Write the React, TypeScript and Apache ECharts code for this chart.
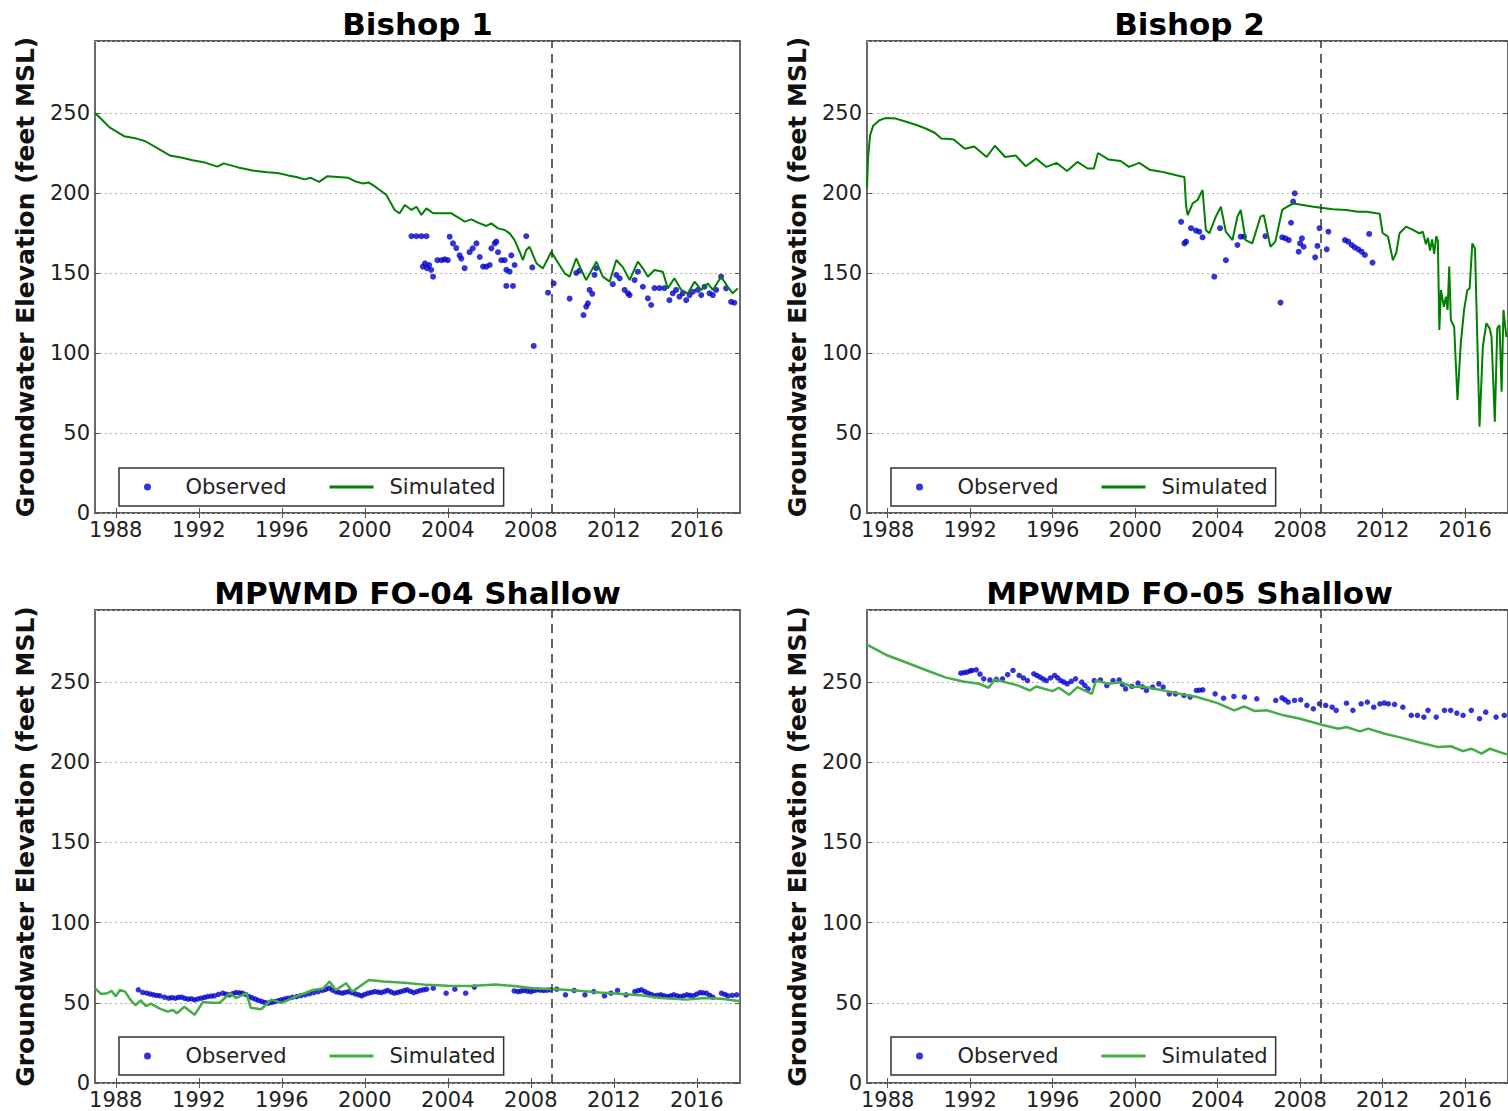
import React, { useEffect, useRef } from 'react';
import * as echarts from 'echarts';

// ---------- data (decimal year, feet MSL) ----------
const PANEL_TITLES = ['Bishop 1', 'Bishop 2', 'MPWMD FO-04 Shallow', 'MPWMD FO-05 Shallow'];
const YEAR_TICKS = [1988, 1992, 1996, 2000, 2004, 2008, 2012, 2016];
const X_MIN = 1987.0;
const X_MAX = 2018.08;
const Y_MIN = 0;
const Y_MAX = 295;
const Y_STEP = 50;
const CALIBRATION_END = 2009.0;
const Y_LABEL = 'Groundwater Elevation (feet MSL)';
const OBS_NAME = 'Observed';
const SIM_NAME = 'Simulated';

const BISHOP1_SIM: number[][] = [
  [1987.0, 250], [1987.4, 245], [1987.7, 241], [1988.4, 235.5], [1989.0, 234], [1989.4, 232.5],
  [1990.0, 228], [1990.6, 223.5], [1991.2, 222], [1991.7, 220.5], [1992.3, 219], [1992.9, 216.5],
  [1993.2, 218.5], [1993.9, 216], [1994.6, 214], [1995.3, 213], [1995.8, 212.5], [1996.3, 211],
  [1996.7, 210], [1997.1, 208.5], [1997.4, 209.5], [1997.8, 207], [1998.2, 210.5], [1998.7, 210],
  [1999.2, 209.5], [1999.6, 207], [1999.9, 206], [2000.2, 206.5], [2000.5, 204], [2000.72, 201.9],
  [2001.04, 198.8], [2001.44, 189.4], [2001.68, 187.3], [2001.93, 192.5], [2002.25, 189.4],
  [2002.49, 191.4], [2002.73, 186.3], [2002.97, 190.4], [2003.29, 187.3], [2003.69, 187.3],
  [2004.17, 187.3], [2004.57, 184.2], [2004.81, 182.1], [2005.14, 183.5], [2005.45, 181.5],
  [2005.86, 179.4], [2006.1, 181.0], [2006.42, 177.9], [2006.74, 176.9], [2006.98, 174.8],
  [2007.22, 170.6], [2007.46, 163.3], [2007.62, 158.1], [2007.78, 164.4], [2007.94, 166.4],
  [2008.27, 156.1], [2008.58, 152.9], [2008.99, 163.3], [2009.23, 158.1], [2009.63, 149.8],
  [2009.87, 147.7], [2010.19, 159.2], [2010.43, 151.9], [2010.67, 145.6], [2011.16, 157.1],
  [2011.47, 147.7], [2011.8, 144.6], [2012.12, 158.1], [2012.44, 153.5], [2012.76, 145.6],
  [2013.16, 157.1], [2013.4, 152.9], [2013.64, 147.7], [2013.96, 151.9], [2014.36, 150.8],
  [2014.6, 140.4], [2014.92, 146.7], [2015.25, 139.4], [2015.57, 137.3], [2015.89, 144.6],
  [2016.21, 139.4], [2016.53, 143.5], [2016.77, 139.4], [2017.17, 147.7], [2017.49, 141.4],
  [2017.73, 137.3], [2017.97, 140.4],
];

const BISHOP1_OBS: number[][] = [
  [2002.25, 173], [2002.49, 173], [2002.73, 173], [2002.97, 173],
  [2002.8, 154], [2002.9, 156], [2003.0, 153], [2003.1, 155], [2003.2, 152], [2003.29, 147.7],
  [2003.5, 158], [2003.7, 158], [2003.85, 158.5], [2004.0, 158],
  [2004.09, 172.7], [2004.25, 168.5], [2004.41, 165.6], [2004.57, 161], [2004.65, 159], [2004.81, 153],
  [2005.05, 163], [2005.2, 165.4], [2005.38, 168.5], [2005.54, 160], [2005.7, 154], [2005.86, 154],
  [2006.02, 155], [2006.1, 165.4], [2006.26, 168.5], [2006.34, 169.6], [2006.42, 163],
  [2006.58, 158], [2006.74, 158], [2006.82, 152], [2006.98, 150.8], [2007.06, 161], [2007.22, 155],
  [2006.82, 141.9], [2007.14, 141.9], [2007.78, 173], [2008.07, 153.5], [2008.14, 104.4],
  [2008.83, 137.7], [2009.1, 143.5], [2009.87, 134], [2010.19, 150], [2010.35, 151.5],
  [2010.54, 123.7], [2010.67, 129], [2010.75, 131], [2010.83, 139.4], [2010.96, 137],
  [2011.07, 148.8], [2011.15, 153], [2011.95, 143], [2012.12, 148.8], [2012.28, 146.7],
  [2012.52, 139.4], [2012.68, 137.3], [2012.76, 136.2], [2013.0, 145.6], [2013.16, 150.8],
  [2013.4, 141.4], [2013.64, 134.2], [2013.8, 130], [2013.96, 140.6], [2014.2, 140.6],
  [2014.44, 140.6], [2014.68, 133], [2014.84, 137.3], [2015.0, 139.4], [2015.16, 135.2],
  [2015.32, 137.3], [2015.49, 133], [2015.65, 136.2], [2015.81, 138.3], [2016.05, 139.4],
  [2016.21, 136.2], [2016.37, 141.4], [2016.61, 137.3], [2016.77, 136.2], [2016.93, 139.4],
  [2017.17, 147.7], [2017.41, 140.4], [2017.65, 132], [2017.81, 131.4],
];

const BISHOP2_SIM: number[][] = [
  [1987.0, 203], [1987.05, 222], [1987.15, 236], [1987.3, 242], [1987.6, 245.5], [1987.9, 246.8],
  [1988.4, 246.5], [1988.9, 244.5], [1989.4, 242.5], [1989.9, 240], [1990.3, 237.5], [1990.6, 234],
  [1991.0, 233.8], [1991.2, 233.4], [1991.75, 227.7], [1992.2, 229], [1992.8, 222.5], [1993.2, 229.5],
  [1993.7, 222.5], [1994.2, 223.5], [1994.7, 216.7], [1995.2, 221.5], [1995.7, 216.3], [1996.2, 218.8],
  [1996.7, 213.8], [1997.2, 219.4], [1997.7, 215.3], [1998.0, 215.3], [1998.2, 225], [1998.7, 221],
  [1999.3, 220], [1999.7, 216.3], [2000.2, 218.8], [2000.7, 214.6], [2001.2, 213.5], [2001.7, 212],
  [2002.2, 210.5], [2002.39, 210], [2002.47, 192], [2002.55, 186.2], [2002.79, 193.5], [2003.03, 195.6],
  [2003.27, 201.9], [2003.43, 176.9], [2003.6, 174.8], [2003.91, 185.2], [2004.16, 191.4],
  [2004.4, 175.8], [2004.72, 170.6], [2004.96, 185.2], [2005.12, 189.4], [2005.36, 170.6],
  [2005.68, 168.5], [2006.08, 185.2], [2006.24, 186.2], [2006.56, 166.4], [2006.8, 169.6],
  [2007.13, 189.4], [2007.37, 191.4], [2007.69, 193.5], [2008.65, 191.4], [2009.0, 190.8],
  [2009.6, 189.8], [2010.25, 189.4], [2010.8, 188.3], [2011.22, 188.3], [2011.7, 187.3],
  [2011.86, 187.0], [2012.0, 175], [2012.26, 172.7], [2012.5, 158], [2012.66, 162.5],
  [2012.82, 174.8], [2013.14, 179], [2013.47, 177], [2013.78, 174.8], [2013.95, 175.8],
  [2014.1, 168], [2014.2, 172], [2014.3, 164], [2014.4, 171], [2014.5, 162], [2014.6, 173],
  [2014.68, 170], [2014.75, 114.4], [2014.83, 139.4], [2014.97, 128.8], [2015.07, 135.2],
  [2015.15, 126.9], [2015.23, 154], [2015.31, 120.6], [2015.47, 116.4], [2015.63, 70.6],
  [2015.79, 106], [2015.95, 126.9], [2016.11, 139.4], [2016.22, 140.4], [2016.35, 168.5],
  [2016.48, 165.4], [2016.7, 54], [2016.86, 104], [2017.03, 118.6], [2017.19, 115.4],
  [2017.28, 110.2], [2017.44, 57], [2017.56, 115.4], [2017.67, 117.5], [2017.77, 75.8],
  [2017.86, 126.9], [2018.0, 110],
];

const BISHOP2_OBS: number[][] = [
  [2002.23, 182], [2002.39, 168.5], [2002.47, 169.6], [2002.71, 178], [2002.95, 176.5],
  [2003.11, 175.8], [2003.27, 172.3], [2003.84, 147.7], [2004.12, 178], [2004.4, 158],
  [2004.96, 167.5], [2005.12, 172.7], [2005.28, 172.7], [2006.32, 173], [2007.05, 131.5],
  [2007.13, 172.3], [2007.29, 171.7], [2007.45, 170.6], [2007.56, 181.4], [2007.66, 194.6],
  [2007.74, 199.8], [2007.93, 163.3], [2008.0, 168.5], [2008.09, 171.7], [2008.17, 166.4],
  [2008.73, 159.8], [2008.84, 166.9], [2008.94, 178], [2009.29, 164.8], [2009.37, 175.8],
  [2010.17, 170.6], [2010.33, 169.6], [2010.5, 167.5], [2010.65, 166], [2010.82, 164.8],
  [2010.98, 163.3], [2011.14, 161.3], [2011.35, 174.4], [2011.51, 156.5],
];

const FO04_SIM: number[][] = [
  [1987.0, 59], [1987.3, 55.5], [1987.6, 56], [1987.8, 57.5], [1988.0, 54], [1988.2, 58],
  [1988.45, 57], [1988.7, 52], [1988.95, 48.5], [1989.2, 51.5], [1989.45, 48], [1989.7, 49.5],
  [1990.1, 46.5], [1990.5, 44.5], [1990.75, 45.5], [1990.95, 43.5], [1991.3, 47.5], [1991.55, 45],
  [1991.8, 42.5], [1992.2, 50.5], [1992.6, 50], [1993.0, 50], [1993.5, 56], [1993.8, 53],
  [1994.3, 56], [1994.5, 47], [1995.0, 46], [1995.5, 52], [1996.0, 50], [1996.7, 54],
  [1997.5, 58], [1998.0, 59], [1998.3, 63.3], [1998.6, 58], [1999.1, 62.2], [1999.4, 57],
  [2000.2, 64.3], [2000.9, 63.3], [2001.9, 62.5], [2003.0, 61.2], [2004.0, 60.6], [2005.1, 60.5],
  [2006.3, 61.5], [2007.2, 60.5], [2008.2, 59], [2009.25, 58.5], [2010.3, 57.5], [2011.3, 56.5],
  [2012.4, 55.5], [2013.4, 54.5], [2014.3, 53], [2015.5, 52], [2016.4, 53], [2017.2, 52.5],
  [2018.08, 51],
];

const FO04_OBS: number[][] = [
  [1989.09, 58.1], [1989.3, 56.5], [1989.5, 56], [1989.66, 55.5], [1989.82, 55], [1989.98, 54.6],
  [1990.13, 54.4], [1990.35, 53.5], [1990.55, 52.9], [1990.7, 53.2], [1990.87, 52.9], [1991.02, 53.4],
  [1991.18, 53.5], [1991.33, 52.8], [1991.49, 52.3], [1991.65, 52.5], [1991.8, 51.9], [1991.96, 52.4],
  [1992.12, 52.9], [1992.28, 53.4], [1992.43, 53.9], [1992.6, 54.2], [1992.75, 54.4], [1992.95, 55.3],
  [1993.16, 56], [1993.32, 55.4], [1993.48, 55], [1993.64, 55.8], [1993.79, 56.4], [1993.95, 56.2],
  [1994.1, 56], [1994.26, 55.2], [1994.42, 53.9], [1994.57, 53.1], [1994.73, 52.3], [1994.88, 51.5],
  [1995.04, 50.8], [1995.2, 50.2], [1995.36, 49.8], [1995.52, 50.3], [1995.67, 50.8], [1995.83, 51.3],
  [1995.98, 51.9], [1996.14, 52.4], [1996.3, 52.9], [1996.5, 53.4], [1996.72, 53.9], [1996.92, 54.5],
  [1997.13, 55], [1997.34, 55.7], [1997.55, 56.4], [1997.76, 57], [1997.97, 57.7], [1998.12, 58.4],
  [1998.28, 59.1], [1998.44, 58], [1998.6, 57], [1998.75, 56.5], [1998.91, 56], [1999.06, 56.5],
  [1999.22, 57], [1999.38, 56.3], [1999.54, 55.6], [1999.7, 55], [1999.85, 54.4], [2000.0, 55.2],
  [2000.16, 56], [2000.32, 56.5], [2000.48, 57], [2000.64, 56.7], [2000.79, 56.4], [2000.95, 57],
  [2001.1, 57.7], [2001.26, 56.8], [2001.42, 56], [2001.58, 56.5], [2001.73, 57], [2001.9, 57.6],
  [2002.04, 58.1], [2002.2, 57.2], [2002.36, 56.4], [2002.52, 57], [2002.67, 57.7], [2002.83, 58.1],
  [2002.98, 58.5], [2003.3, 59.1], [2003.92, 56], [2004.34, 58.5], [2004.86, 56], [2005.28, 59.8],
  [2007.2, 57.4], [2007.37, 57], [2007.52, 57.3], [2007.68, 57.7], [2007.84, 57.3], [2008.0, 57],
  [2008.16, 57.6], [2008.31, 58.1], [2008.47, 57.9], [2008.62, 57.7], [2008.78, 57.9], [2008.94, 58.1],
  [2009.25, 58.5], [2009.67, 55], [2010.09, 57.7], [2010.61, 55], [2011.03, 57], [2011.55, 54.4],
  [2011.86, 56], [2012.18, 57.7], [2012.59, 55], [2013.01, 57], [2013.17, 57.6], [2013.33, 58.1],
  [2013.49, 57], [2013.64, 56], [2013.8, 55.2], [2013.95, 54.4], [2014.11, 54.7], [2014.27, 55],
  [2014.42, 54.4], [2014.58, 53.9], [2014.73, 54.4], [2014.89, 55], [2015.05, 54.4], [2015.2, 53.9],
  [2015.36, 54.4], [2015.52, 55], [2015.67, 54.7], [2015.83, 54.4], [2015.99, 55.4], [2016.15, 56.4],
  [2016.3, 56.2], [2016.46, 56], [2016.62, 54.7], [2016.77, 53.5], [2017.19, 56], [2017.35, 55.2],
  [2017.5, 54.4], [2017.71, 54.7], [2017.92, 55],
];

const FO05_SIM: number[][] = [
  [1987.0, 273.4], [1988.0, 266.6], [1989.0, 261.8], [1990.0, 256.8], [1990.8, 253], [1991.65, 250.4],
  [1992.45, 249], [1992.9, 246.5], [1993.2, 251.7], [1994.3, 248], [1994.9, 244.8], [1995.2, 247.3],
  [1996.0, 244.4], [1996.3, 246.5], [1996.8, 242.1], [1997.2, 246.9], [1997.9, 242.7], [1998.1, 251],
  [1998.7, 249], [1999.3, 250], [1999.9, 246.9], [2000.3, 247.3], [2001.2, 245.2], [2002.2, 242.7],
  [2003.0, 240.7], [2004.0, 236.9], [2004.8, 232.4], [2005.3, 234.8], [2005.8, 232], [2006.4, 232.4],
  [2007.2, 229.3], [2008.0, 227.2], [2009.0, 223.6], [2009.85, 220.9], [2010.25, 222], [2010.9, 219.3],
  [2011.3, 221], [2012.1, 217.8], [2012.9, 215.4], [2013.7, 212.7], [2014.7, 209.5], [2015.3, 210],
  [2015.9, 207], [2016.3, 208.5], [2016.8, 205.4], [2017.2, 208.5], [2017.9, 205.4], [2018.08, 205],
];

const FO05_OBS: number[][] = [
  [1991.55, 255.6], [1991.7, 255.9], [1991.85, 256.2], [1992.0, 257], [1992.1, 257.3], [1992.3, 257.7],
  [1992.48, 255], [1992.66, 252.1], [1992.96, 251.4], [1993.27, 251.8], [1993.57, 252.1], [1993.82, 254.7],
  [1994.08, 257.3], [1994.38, 254.2], [1994.58, 252.6], [1994.78, 251.0], [1995.09, 255.2], [1995.24, 254.2],
  [1995.39, 253.1], [1995.54, 252], [1995.69, 251.0], [1995.9, 252.6], [1996.1, 254.2], [1996.25, 252.6],
  [1996.4, 251.0], [1996.55, 250], [1996.71, 249.0], [1996.9, 250.5], [1997.11, 252.1], [1997.41, 250.0],
  [1997.56, 248], [1997.72, 245.8], [1998.02, 251.0], [1998.32, 251.4], [1998.63, 247.9], [1998.93, 251.0],
  [1999.23, 251.4], [1999.39, 248.6], [1999.54, 245.8], [1999.84, 247.3], [2000.14, 249.4], [2000.35, 247.1],
  [2000.55, 244.8], [2000.85, 246.9], [2001.15, 249.0], [2001.36, 246.9], [2001.66, 242.7], [2001.96, 242.7],
  [2002.37, 241.7], [2002.67, 240.7], [2002.97, 244.8], [2003.12, 245], [2003.28, 245.2], [2003.88, 242.7],
  [2004.29, 240.0], [2004.79, 241.1], [2005.3, 240.7], [2005.9, 239.6], [2006.82, 238.6], [2007.12, 240.2],
  [2007.27, 239], [2007.42, 237.6], [2007.73, 238.6], [2008.03, 239.0], [2008.33, 235.5], [2008.64, 233.4],
  [2008.94, 236.5], [2009.24, 235.5], [2009.55, 234.4], [2009.75, 232.4], [2010.25, 236.9], [2010.56, 232.4],
  [2010.96, 236.5], [2011.26, 237.6], [2011.57, 234.4], [2011.87, 236.5], [2012.08, 237], [2012.28, 236.5],
  [2012.58, 236.1], [2012.98, 234.4], [2013.39, 229.3], [2013.69, 229.3], [2014.0, 228.2], [2014.2, 232.4],
  [2014.6, 228.2], [2015.0, 232.4], [2015.3, 232.4], [2015.6, 230.7], [2015.9, 229.3], [2016.3, 232.4],
  [2016.7, 227.2], [2017.0, 231.3], [2017.5, 228.2], [2017.9, 229.3],
];

// ---------- styling / layout ----------
const FONT = "'DejaVu Sans', sans-serif";
const OBS_COLOR = '#0000cc';
const SIM_DARK = '#008000';
const SIM_LIGHT = '#45ad45';
const GRID_W = 645;
const DOT_ICON = 'path://M0,3.5a3.5,3.5 0 1,0 7,0a3.5,3.5 0 1,0 -7,0Z';
const LINE_ICON = 'path://M0 0H44V3H0Z';

const PANELS = [
  { title: PANEL_TITLES[0], obs: BISHOP1_OBS, sim: BISHOP1_SIM, simColor: SIM_DARK, simWidth: 2, dot: 6, left: 95, top: 41, height: 472 },
  { title: PANEL_TITLES[1], obs: BISHOP2_OBS, sim: BISHOP2_SIM, simColor: SIM_DARK, simWidth: 2, dot: 6, left: 867, top: 41, height: 472 },
  { title: PANEL_TITLES[2], obs: FO04_OBS, sim: FO04_SIM, simColor: SIM_LIGHT, simWidth: 2.5, dot: 5.5, left: 95, top: 610, height: 473 },
  { title: PANEL_TITLES[3], obs: FO05_OBS, sim: FO05_SIM, simColor: SIM_LIGHT, simWidth: 2.5, dot: 5.5, left: 867, top: 610, height: 473 },
];

function buildOption() {
  const tickStyle = { color: '#555', width: 1 };
  const labelStyle = { fontFamily: FONT, fontSize: 21, color: '#222' };
  return {
    animation: false,
    backgroundColor: '#fff',
    title: PANELS.map((p) => ({
      text: p.title,
      left: p.left + GRID_W / 2,
      top: p.top - 33,
      textAlign: 'center',
      padding: 0,
      textStyle: { fontFamily: FONT, fontSize: 31, fontWeight: 'bold', color: '#000' },
    })),
    grid: PANELS.map((p) => ({
      left: p.left,
      top: p.top,
      width: GRID_W,
      height: p.height,
      show: true,
      borderColor: '#5a5a5a',
      borderWidth: 1.8,
      backgroundColor: 'transparent',
      containLabel: false,
    })),
    xAxis: PANELS.flatMap((p, i) => [
      {
        type: 'value', gridIndex: i, position: 'bottom', min: X_MIN, max: X_MAX,
        axisLine: { show: false },
        axisTick: { show: true, inside: true, length: 5, customValues: YEAR_TICKS, lineStyle: tickStyle },
        axisLabel: { show: true, customValues: YEAR_TICKS, margin: 6, formatter: (v: number) => String(v), ...labelStyle },
        splitLine: { show: false },
      },
      {
        type: 'value', gridIndex: i, position: 'top', min: X_MIN, max: X_MAX,
        axisLine: { show: false },
        axisTick: { show: true, inside: true, length: 5, customValues: YEAR_TICKS, lineStyle: tickStyle },
        axisLabel: { show: false },
        splitLine: { show: false },
      },
    ]),
    yAxis: PANELS.flatMap((p, i) => [
      {
        type: 'value', gridIndex: i, position: 'left', min: Y_MIN, max: Y_MAX, interval: Y_STEP,
        name: Y_LABEL, nameLocation: 'middle', nameRotate: 90, nameGap: 57,
        nameTextStyle: { fontFamily: FONT, fontSize: 25, fontWeight: 'bold', color: '#111' },
        axisLine: { show: false },
        axisTick: { show: true, inside: true, length: 5, lineStyle: tickStyle },
        axisLabel: { show: true, margin: 5, showMaxLabel: false, ...labelStyle },
        splitLine: { show: true, lineStyle: { color: '#b4b4b4', width: 1, type: [2, 3] } },
      },
      {
        type: 'value', gridIndex: i, position: 'right', min: Y_MIN, max: Y_MAX, interval: Y_STEP,
        axisLine: { show: false },
        axisTick: { show: true, inside: true, length: 5, lineStyle: tickStyle },
        axisLabel: { show: false },
        splitLine: { show: false },
      },
    ]),
    legend: PANELS.map((p) => ({
      left: p.left + 24,
      top: p.top + 427,
      orient: 'horizontal',
      selectedMode: false,
      symbolKeepAspect: true,
      data: [
        { name: OBS_NAME, icon: DOT_ICON, itemStyle: { color: OBS_COLOR, borderWidth: 0 } },
        { name: SIM_NAME, icon: LINE_ICON, itemStyle: { color: p.simColor, borderWidth: 0 } },
      ],
      itemWidth: 44,
      itemHeight: 7,
      itemGap: 43,
      padding: [8.5, 8, 8.5, 25],
      borderColor: '#333',
      borderWidth: 1.5,
      backgroundColor: '#fff',
      textStyle: { fontFamily: FONT, fontSize: 21, color: '#222', padding: [0, 0, 0, 11] },
    })),
    series: PANELS.flatMap((p, i) => [
      {
        type: 'scatter', name: OBS_NAME, xAxisIndex: i * 2, yAxisIndex: i * 2,
        data: p.obs, symbol: 'circle', symbolSize: p.dot,
        itemStyle: { color: OBS_COLOR },
        markLine: {
          silent: true, symbol: 'none', animation: false,
          label: { show: false },
          lineStyle: { color: '#333', width: 1.5, type: [9, 6] },
          data: [{ xAxis: CALIBRATION_END }],
        },
      },
      {
        type: 'line', name: SIM_NAME, xAxisIndex: i * 2, yAxisIndex: i * 2,
        data: p.sim, showSymbol: false, symbol: 'none',
        lineStyle: { color: p.simColor, width: p.simWidth },
        itemStyle: { color: p.simColor },
      },
    ]),
  };
}

export default function App() {
  const ref = useRef<HTMLDivElement>(null);
  useEffect(() => {
    if (!ref.current) return;
    const chart = echarts.init(ref.current, undefined, { renderer: 'svg' });
    chart.setOption(buildOption() as any);
    return () => chart.dispose();
  }, []);
  return (
    <div
      ref={ref}
      style={{ position: 'absolute', left: 0, top: 0, width: 1508, height: 1111, background: '#fff' }}
    />
  );
}
